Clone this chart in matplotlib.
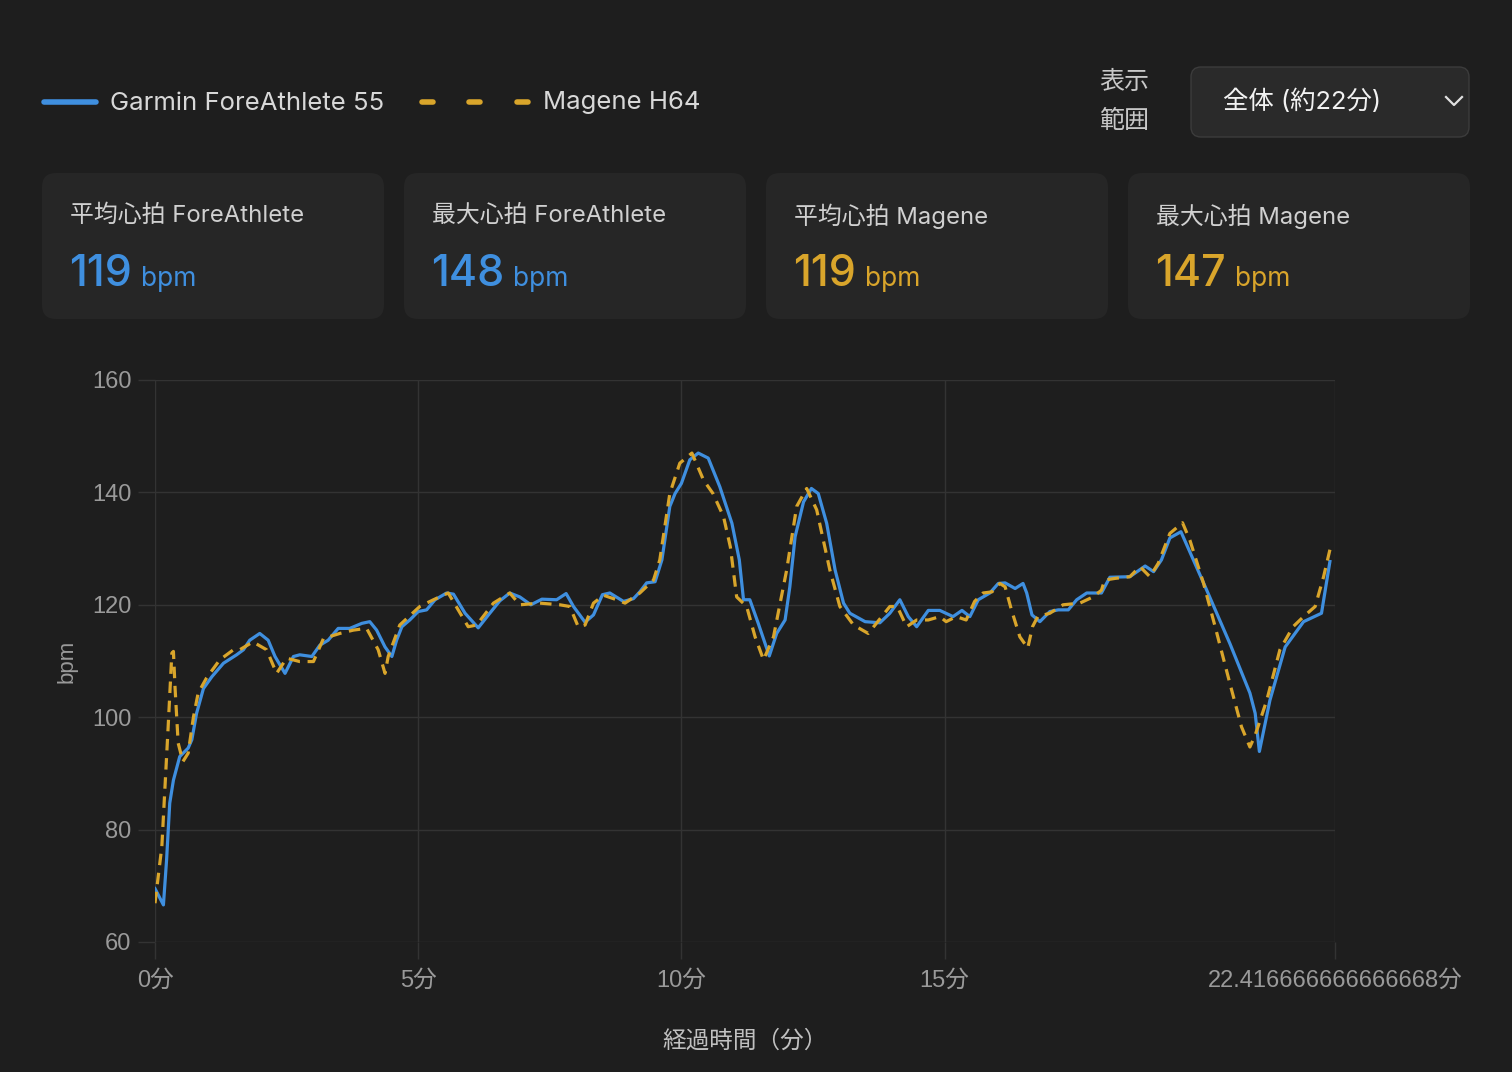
import numpy as np
import matplotlib
matplotlib.use('Agg')
import matplotlib.pyplot as plt
from matplotlib.patches import FancyBboxPatch
from matplotlib.lines import Line2D

# ---- data (minutes, bpm) ----
garmin_t = [0.00, 0.16, 0.22, 0.28, 0.35, 0.47, 0.63, 0.70, 0.79, 0.92, 1.08, 1.30, 1.55, 1.68,
            1.80, 1.99, 2.15, 2.28, 2.47, 2.63, 2.75, 2.98, 3.13, 3.29, 3.48, 3.70, 3.93, 4.08,
            4.21, 4.37, 4.50, 4.59, 4.69, 4.84, 5.00, 5.16, 5.32, 5.54, 5.67, 5.89, 6.14, 6.36,
            6.55, 6.74, 6.93, 7.14, 7.35, 7.63, 7.81, 7.95, 8.17, 8.33, 8.50, 8.64, 8.90, 9.09,
            9.21, 9.34, 9.50, 9.63, 9.78, 9.88, 10.00, 10.16, 10.32, 10.51, 10.73, 10.96, 11.10,
            11.18, 11.30, 11.46, 11.67, 11.81, 11.97, 12.06, 12.16, 12.32, 12.47, 12.60, 12.76,
            12.92, 13.08, 13.20, 13.49, 13.77, 13.96, 14.15, 14.31, 14.47, 14.69, 14.91, 15.16,
            15.33, 15.48, 15.64, 15.86, 16.02, 16.15, 16.34, 16.49, 16.56, 16.66, 16.81, 17.00,
            17.16, 17.35, 17.51, 17.70, 17.98, 18.14, 18.52, 18.81, 18.97, 19.12, 19.28, 19.49,
            19.98, 20.42, 20.80, 20.90, 20.98, 21.18, 21.47, 21.82, 22.16, 22.32]
garmin_bpm = [69.5, 66.6, 74.6, 84.7, 88.8, 93.0, 94.5, 96.0, 100.7, 105.1, 107.2, 109.6, 111.1, 112.0,
              113.7, 114.9, 113.7, 110.8, 107.8, 110.8, 111.1, 110.8, 112.8, 113.7, 115.8, 115.8, 116.7, 117.0,
              115.5, 112.5, 110.8, 113.7, 116.1, 117.3, 118.8, 119.1, 120.9, 122.1, 121.9, 118.5, 115.9, 118.5,
              120.7, 122.1, 121.4, 120.0, 121.0, 120.9, 122.0, 119.7, 116.9, 118.2, 121.8, 122.1, 120.6, 121.1,
              122.3, 123.9, 124.1, 128.0, 137.5, 139.8, 141.6, 145.8, 147.0, 146.1, 141.0, 134.5, 128.0,
              120.9, 120.9, 116.7, 110.9, 114.9, 117.3, 123.2, 132.1, 138.3, 140.7, 139.8, 134.5,
              126.2, 120.3, 118.5, 117.0, 116.8, 118.5, 120.9, 117.9, 116.1, 119.0, 119.0, 117.9,
              119.0, 117.9, 120.9, 122.1, 123.8, 123.9, 122.9, 123.8, 122.1, 118.2, 117.0, 118.8,
              119.1, 119.1, 120.9, 122.1, 122.1, 124.9, 125.0, 126.9, 125.9, 128.0, 131.9, 133.0,
              122.6, 113.1, 104.3, 100.7, 93.9, 103.0, 112.5, 117.0, 118.5, 127.7]

magene_t = [0.00, 0.13, 0.25, 0.32, 0.35, 0.38, 0.44, 0.53, 0.63, 0.73, 0.82, 0.98, 1.23, 1.49,
            1.61, 1.86, 2.12, 2.31, 2.50, 2.75, 3.01, 3.20, 3.51, 3.77, 4.02, 4.24, 4.37, 4.43,
            4.65, 5.03, 5.29, 5.57, 5.95, 6.11, 6.43, 6.74, 6.93, 7.31, 7.69, 7.88, 8.04, 8.17,
            8.33, 8.52, 8.77, 8.93, 9.21, 9.47, 9.59, 9.78, 9.97, 10.20, 10.42, 10.60, 10.80,
            10.93, 11.05, 11.24, 11.40, 11.56, 11.75, 12.00, 12.19, 12.38, 12.57, 12.82, 13.01,
            13.27, 13.55, 13.96, 14.10, 14.28, 14.47, 14.69, 14.91, 15.03, 15.22, 15.41, 15.57,
            15.73, 15.90, 16.05, 16.15, 16.27, 16.43, 16.58, 16.67, 16.77, 17.00, 17.25, 17.57,
            17.82, 17.98, 18.04, 18.24, 18.52, 18.71, 18.90, 19.06, 19.28, 19.52, 19.66, 19.92,
            20.14, 20.42, 20.64, 20.80, 20.90, 21.12, 21.37, 21.62, 21.82, 22.04, 22.20, 22.32]
magene_bpm = [66.9, 77.0, 98.3, 111.4, 111.7, 105.4, 95.4, 92.1, 93.6, 100.0, 104.3, 107.0, 110.2, 112.0,
              112.0, 113.4, 112.0, 107.8, 110.5, 109.9, 109.9, 114.0, 114.9, 115.5, 115.8, 112.0, 107.8, 110.8,
              116.4, 119.7, 120.9, 122.1, 116.1, 116.4, 120.3, 122.1, 120.0, 120.3, 120.0, 119.7, 116.1, 116.4,
              120.3, 121.7, 120.9, 120.3, 122.1, 124.4, 128.0, 139.8, 145.2, 147.0, 142.2, 139.8, 135.7,
              130.3, 121.4, 119.7, 114.3, 110.2, 114.3, 126.2, 137.5, 140.7, 136.9, 126.2, 119.7,
              116.4, 114.9, 119.7, 119.7, 116.1, 117.3, 117.3, 117.9, 117.0, 117.9, 117.3, 120.6,
              122.1, 122.3, 123.8, 123.2, 119.1, 114.3, 112.3, 116.1, 117.9, 118.5, 120.0, 120.3,
              121.4, 122.6, 124.4, 124.7, 125.0, 126.8, 125.0, 127.4, 132.7, 134.6, 131.5, 123.8,
              116.1, 106.0, 98.3, 94.7, 96.8, 103.0, 112.0, 116.1, 117.9, 119.7, 125.0, 129.8]

series_names = ['Garmin ForeAthlete 55', 'Magene H64']
card_titles = ['平均心拍 ForeAthlete', '最大心拍 ForeAthlete', '平均心拍 Magene', '最大心拍 Magene']
card_values = [119, 148, 119, 147]
range_label = '全体 (約22分)'
end_min = 1345 / 60
x_ticks = [0, 5, 10, 15, end_min]
y_ticks = [60, 80, 100, 120, 140, 160]

BG = '#1e1e1e'
CARD = '#262626'
BLUE = '#3f8fdf'
GOLD = '#d9a52b'
FONT = ['Inter', 'Noto Sans CJK JP', 'DejaVu Sans']
TICKFONT = ['Liberation Sans', 'Noto Sans CJK JP', 'DejaVu Sans']

W, H = 1512, 1072
fig = plt.figure(figsize=(W / 100, H / 100), dpi=100, facecolor=BG)

# overlay in pixel coordinates
ov = fig.add_axes([0, 0, 1, 1], zorder=0)
ov.set_xlim(0, W)
ov.set_ylim(H, 0)
ov.axis('off')
ov.set_facecolor(BG)

# legend
ov.add_line(Line2D([44, 96], [102, 102], color=BLUE, lw=4, solid_capstyle='round'))
ov.text(110, 103, series_names[0], color='#d8d8d8', fontsize=18.5, family=FONT, va='center')
for x0 in (422, 469, 517):
    ov.add_line(Line2D([x0, x0 + 11], [102, 102], color=GOLD, lw=4, solid_capstyle='round'))
ov.text(543, 103, series_names[1], color='#d8d8d8', fontsize=18.5, family=FONT, va='center')

# range selector
ov.text(1099, 82, '表示', color='#c8c8c8', fontsize=18, family=FONT, va='center')
ov.text(1099, 121, '範囲', color='#c8c8c8', fontsize=18, family=FONT, va='center')
ov.add_patch(FancyBboxPatch((1191, 67), 278, 70, boxstyle='round,pad=0,rounding_size=10',
                            fc='#2a2a2a', ec='#3c3c3c', lw=1))
ov.text(1223, 102, range_label, color='#f2f2f2', fontsize=18.3, family=FONT, va='center')
ov.add_line(Line2D([1446, 1454, 1462], [97, 105, 97], color='#e0e0e0', lw=1.6))

# stat cards
card_x = [42, 404, 766, 1128]
for i, (title, val) in enumerate(zip(card_titles, card_values)):
    x0 = card_x[i]
    ov.add_patch(FancyBboxPatch((x0, 173), 342, 146, boxstyle='round,pad=0,rounding_size=14',
                                fc=CARD, ec='none'))
    col = BLUE if i < 2 else GOLD
    ov.text(x0 + 28, 216, title, color='#d0d0d0', fontsize=17.2, family=FONT, va='center')
    t = ov.text(x0 + 27, 286, str(val), color=col, fontsize=31, family=FONT, va='baseline',
                fontweight='medium')
    fig.canvas.draw()
    bb = t.get_window_extent()
    ov.text(x0 + 27 + bb.width + 9, 286, 'bpm', color=col, fontsize=19, family=FONT, va='baseline')

# main chart
ax = fig.add_axes([155 / W, 1 - 942 / H, (1335 - 155) / W, (942 - 380) / H], zorder=1)
ax.set_facecolor('none')
ax.plot(garmin_t, garmin_bpm, color=BLUE, lw=2.3, zorder=3, solid_joinstyle='round')
ax.plot(magene_t, magene_bpm, color=GOLD, lw=2.3, dashes=(3.6, 2.4), zorder=4)
ax.set_xlim(0, end_min)
ax.set_ylim(60, 160)
ax.set_xticks(x_ticks)
ax.set_xticklabels([(str(int(v)) if float(v).is_integer() else str(v)) + '分' for v in x_ticks])
ax.set_yticks(y_ticks)
ax.grid(True, color='#333333', lw=1)
for s in ax.spines.values():
    s.set_visible(False)
ax.tick_params(colors='#333333', length=12, width=1, labelcolor='#9a9a9a', labelsize=17, pad=5)
ax.tick_params(axis='x', pad=8)
for lab in ax.get_xticklabels() + ax.get_yticklabels():
    lab.set_family(TICKFONT)
ax.set_xlabel('経過時間（分）', color='#c0c0c0', fontsize=17, family=FONT, labelpad=28)
ax.set_ylabel('bpm', color='#9a9a9a', fontsize=16, family=TICKFONT, labelpad=10)

fig.savefig('out.png', dpi=100, facecolor=BG)
